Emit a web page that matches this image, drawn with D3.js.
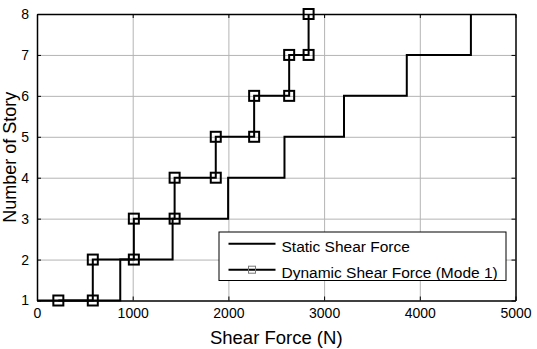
<!DOCTYPE html>
<html>
<head>
<meta charset="utf-8">
<script src="https://cdn.jsdelivr.net/npm/d3@7"></script>
<style>
  html, body { margin: 0; padding: 0; background: #fff; }
  svg { display: block; font-family: "Liberation Sans", Arial, sans-serif; }
</style>
</head>
<body>
<svg id="chart" width="537" height="349"></svg>
<script>
// Story levels and the shear force at which each story's step ends
const stories = [1, 2, 3, 4, 5, 6, 7, 8];
const staticShear = [0, 870, 1417, 1997, 2586, 3208, 3864, 4534];
const dynamicShear = [223, 583, 1012, 1438, 1868, 2269, 2635, 2838];
const xTicks = [0, 1000, 2000, 3000, 4000, 5000];
const yTicks = [1, 2, 3, 4, 5, 6, 7, 8];
const seriesNames = ["Static Shear Force", "Dynamic Shear Force (Mode 1)"];

const svg = d3.select("#chart");
const plotLeft = 37, plotRight = 515.5, plotTop = 14, plotBottom = 300.5;

const x = d3.scaleLinear().domain([0, 5000]).range([plotLeft, plotRight]);
const y = d3.scaleLinear().domain([1, 8]).range([plotBottom, plotTop]);

// Staircase: horizontal run at story i to shear[i], then climb to story i+1
function stairPoints(shear) {
  const pts = [[shear[0], stories[0]]];
  for (let i = 1; i < stories.length; i++) {
    pts.push([shear[i], stories[i - 1]]);
    pts.push([shear[i], stories[i]]);
  }
  return pts;
}

// grid
svg.append("g")
  .attr("transform", `translate(0,${plotBottom})`)
  .call(d3.axisBottom(x).tickValues(xTicks.slice(1, -1)).tickSize(-(plotBottom - plotTop)).tickFormat(""))
  .call(g => g.select(".domain").remove())
  .call(g => g.selectAll("line").attr("stroke", "#b4b4b4").attr("stroke-width", 1));
svg.append("g")
  .attr("transform", `translate(${plotLeft},0)`)
  .call(d3.axisLeft(y).tickValues(yTicks.slice(1, -1)).tickSize(-(plotRight - plotLeft)).tickFormat(""))
  .call(g => g.select(".domain").remove())
  .call(g => g.selectAll("line").attr("stroke", "#b4b4b4").attr("stroke-width", 1));

// axes with inward ticks on all four sides
const styleAxis = g => {
  g.attr("font-family", null);
  g.select(".domain").attr("stroke", "#000").attr("stroke-width", 1.5);
  g.selectAll(".tick line").attr("stroke", "#000").attr("stroke-width", 1);
  g.selectAll(".tick text").attr("fill", "#000").style("font-size", "14px")
    .style("font-family", "'Liberation Sans', Arial, sans-serif");
};
svg.append("g")
  .attr("transform", `translate(0,${plotBottom})`)
  .call(d3.axisBottom(x).tickValues(xTicks).tickSizeInner(-4).tickSizeOuter(0).tickPadding(8).tickFormat(d3.format("d")))
  .call(styleAxis);
svg.append("g")
  .attr("transform", `translate(0,${plotTop})`)
  .call(d3.axisTop(x).tickValues(xTicks).tickSizeInner(-4).tickSizeOuter(0).tickFormat(""))
  .call(styleAxis);
svg.append("g")
  .attr("transform", `translate(${plotLeft},0)`)
  .call(d3.axisLeft(y).tickValues(yTicks).tickSizeInner(-4).tickSizeOuter(0).tickPadding(8).tickFormat(d3.format("d")))
  .call(styleAxis);
svg.append("g")
  .attr("transform", `translate(${plotRight},0)`)
  .call(d3.axisRight(y).tickValues(yTicks).tickSizeInner(-4).tickSizeOuter(0).tickFormat(""))
  .call(styleAxis);

// series
const line = d3.line().x(d => x(d[0])).y(d => y(d[1]));
const staticPts = stairPoints(staticShear);
const dynamicPts = stairPoints(dynamicShear);

svg.append("path").datum(staticPts)
  .attr("d", line).attr("fill", "none").attr("stroke", "#000").attr("stroke-width", 2);
svg.append("path").datum(dynamicPts)
  .attr("d", line).attr("fill", "none").attr("stroke", "#000").attr("stroke-width", 2);

const m = 10;
svg.append("g").selectAll("rect").data(dynamicPts).join("rect")
  .attr("x", d => x(d[0]) - m / 2).attr("y", d => y(d[1]) - m / 2)
  .attr("width", m).attr("height", m)
  .attr("fill", "none").attr("stroke", "#000").attr("stroke-width", 2);

// axis titles
svg.append("text")
  .attr("x", (plotLeft + plotRight) / 2).attr("y", 344)
  .attr("text-anchor", "middle").style("font-size", "18.5px").attr("fill", "#000")
  .text("Shear Force (N)");
svg.append("text")
  .attr("transform", `translate(15.5,${(plotTop + plotBottom) / 2}) rotate(-90)`)
  .attr("text-anchor", "middle").style("font-size", "18px").attr("fill", "#000")
  .text("Number of Story");

// legend
const lg = svg.append("g");
lg.append("rect").attr("x", 219).attr("y", 232).attr("width", 287).attr("height", 48.5)
  .attr("fill", "#fff").attr("stroke", "#000").attr("stroke-width", 1);
const rows = [243.7, 269.7];
seriesNames.forEach((name, i) => {
  lg.append("line").attr("x1", 228.5).attr("x2", 275.5).attr("y1", rows[i]).attr("y2", rows[i])
    .attr("stroke", "#000").attr("stroke-width", 2);
  if (i === 1) {
    lg.append("rect").attr("x", 252 - 3.5).attr("y", rows[i] - 3.5).attr("width", 7).attr("height", 7)
      .attr("fill", "none").attr("stroke", "#777").attr("stroke-width", 1);
  }
  lg.append("text").attr("x", 281.5).attr("y", rows[i] + 8.5)
    .style("font-size", "15.5px").attr("fill", "#000").text(name);
});
</script>
</body>
</html>
